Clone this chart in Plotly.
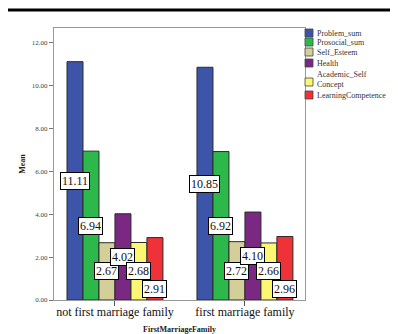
import plotly.graph_objects as go

categories = ["not first marriage family", "first marriage family"]
series_names = ["Problem_sum", "Prosocial_sum", "Self_Esteem", "Health",
                "Academic_Self<br>Concept", "LearningCompetence"]
problem_sum = [11.11, 10.85]
prosocial_sum = [6.94, 6.92]
self_esteem = [2.67, 2.72]
health = [4.02, 4.10]
academic_self = [2.68, 2.66]
learning = [2.91, 2.96]
series_values = [problem_sum, prosocial_sum, self_esteem, health, academic_self, learning]
colors = ["#3D55A8", "#2DB84B", "#D4CF98", "#7A2882", "#FBF772", "#EE3238"]
label_frac = [0.5, 0.5, 0.5, 0.5, 0.5, 0.17]
y_ticks = [0, 2, 4, 6, 8, 10, 12]

SERIF = "Liberation Serif"
OFF = 8  # page body margin
W, H = 398 - OFF, 334 - OFF
L, T = 54 - OFF, 28 - OFF
pw, ph = 251, 272
R, B = W - L - pw, H - T - ph

def py(y_win):
    return 1 - (y_win - OFF - T) / ph

def px(x_win):
    return (x_win - OFF - L) / pw

bar_w = 0.123
n = len(series_values)
fig = go.Figure()
for i, (name, vals) in enumerate(zip(series_names, series_values)):
    off = (i - (n - 1) / 2) * bar_w
    xs = [k + off for k in range(len(categories))]
    fig.add_trace(go.Bar(
        x=xs, y=vals, width=bar_w, name=name,
        marker=dict(color=colors[i], line=dict(color="#2b2b2b", width=1)),
        showlegend=False, hoverinfo="y"))
    for x, v in zip(xs, vals):
        fig.add_annotation(x=x, y=v * label_frac[i], text=f"{v:.2f}",
                           showarrow=False, bgcolor="white",
                           bordercolor="#000", borderwidth=1, borderpad=1,
                           font=dict(family=SERIF, size=12, color="#111"))

# manual legend
swatch_y = [33, 42, 52, 63, 82, 95]
text_y = [33, 42, 52, 63, 79.5, 95]
for i, name in enumerate(series_names):
    yc = py(swatch_y[i])
    fig.add_shape(type="rect", xref="paper", yref="paper",
                  x0=px(305), x1=px(313), y0=yc - 4 / ph, y1=yc + 4 / ph,
                  fillcolor=colors[i], line=dict(color="#444", width=0.8))
    fig.add_annotation(xref="paper", yref="paper", x=px(315), y=py(text_y[i]),
                       xanchor="left", yanchor="middle", showarrow=False,
                       text=name, align="left",
                       font=dict(family=SERIF, size=8, color="#333"))

# top black rule
fig.add_shape(type="line", xref="paper", yref="paper",
              x0=px(OFF), x1=px(398), y0=py(10), y1=py(10),
              line=dict(color="black", width=3))

fig.update_layout(
    width=W, height=H, margin=dict(l=L, r=R, t=T, b=B, autoexpand=False),
    paper_bgcolor="white", plot_bgcolor="white",
    font=dict(family=SERIF, color="#222"),
    xaxis=dict(range=[-0.469, 1.462], tickvals=[0, 1], ticktext=categories,
               ticks="outside", ticklen=5, tickcolor="#555", automargin=False,
               ticklabelstandoff=-4,
               showline=True, mirror=True, linecolor="#999", linewidth=1,
               showgrid=False, zeroline=False,
               tickfont=dict(family=SERIF, size=12, color="#111"),
               title=dict(text="<b>FirstMarriageFamily</b>", standoff=7,
                          font=dict(family=SERIF, size=8, color="#222"))),
    yaxis=dict(range=[0, 12.68], tickvals=y_ticks,
               ticktext=[f"{v:.2f}" for v in y_ticks],
               ticks="outside", ticklen=4, tickcolor="#777", automargin=False,
               showline=True, mirror=True, linecolor="#999", linewidth=1,
               showgrid=False, zeroline=False,
               tickfont=dict(family=SERIF, size=7, color="#444"),
               title=dict(text="<b>Mean</b>", standoff=5,
                          font=dict(family=SERIF, size=8, color="#222"))),
)
fig.write_html("out.html")
